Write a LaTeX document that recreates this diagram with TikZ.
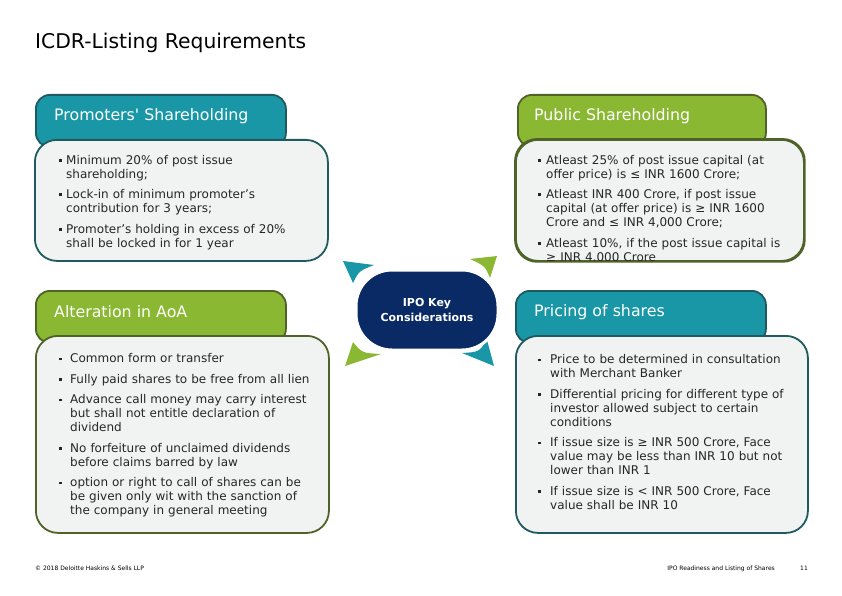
\documentclass[tikz,border=0pt]{standalone}
\usepackage{fontspec}
\setmainfont{DejaVu Sans}[Ligatures=TeXOff]
\usepackage{tikz}
\usetikzlibrary{positioning, calc}
\definecolor{tealhead}{HTML}{1A97A6}
\definecolor{tealline}{HTML}{1F5A60}
\definecolor{greenhead}{HTML}{8AB833}
\definecolor{greenline}{HTML}{4F6228}
\definecolor{navyoval}{HTML}{0A2A66}
\definecolor{panelfill}{HTML}{F1F3F3}
\newlength\bulw
\newcommand\itm[1]{\par\begingroup\let\\\newline\noindent\hangindent=\bulw\hangafter=1%
    \makebox[\bulw][l]{\rule[2.4pt]{2.8pt}{2.8pt}}#1\par\endgroup\vspace{6.5pt}}
\tikzstyle{headbox} = [rectangle, rounded corners=14pt, minimum width=250pt, minimum height=52pt, line width=1.8pt, anchor=north west]
\tikzstyle{headtext} = [text=white, inner sep=0pt, font=\fontsize{15.8}{18}\selectfont]
\tikzstyle{panel} = [rectangle, rounded corners=22pt, fill=panelfill, line width=1.8pt, anchor=north west]
\tikzstyle{listtext} = [inner sep=0pt, text width=290pt, align=left, text=black!85, font=\fontsize{12}{14}\selectfont]
\tikzstyle{footnote} = [inner sep=0pt, font=\fontsize{6}{7}\selectfont]

\begin{document}
\begin{tikzpicture}[x=1pt, y=-1pt]
    \useasboundingbox (0,0) rectangle (842,596);

    % Title
    \node (title) [anchor=base west, inner sep=0pt, font=\fontsize{20.3}{23}\selectfont] at (35,49) {ICDR-Listing Requirements};

    % === TOP LEFT: Promoters' Shareholding ===
    \node (promohead) [headbox, fill=tealhead, draw=tealline] at (35,94) {};
    \node (promobody) [panel, draw=tealline, minimum width=293pt, minimum height=121pt] at (34,139) {};
    \node (promotitle) [headtext, right=19pt of promohead.west, yshift=5pt] {Promoters' Shareholding};
    \node (promolist) [listtext, below right=11pt and 25pt of promobody.north west] {\setlength\bulw{7pt}%
        \itm{Minimum 20\% of post issue\\shareholding;}
        \itm{Lock-in of minimum promoter’s\\contribution for 3 years;}
        \itm{Promoter’s holding in excess of 20\%\\shall be locked in for 1 year}};

    % === TOP RIGHT: Public Shareholding ===
    \node (pubhead) [headbox, fill=greenhead, draw=greenline, minimum width=248pt] at (517,94) {};
    \node (pubbody) [panel, draw=greenline, minimum width=288pt, minimum height=121pt] at (515,139) {};
    \node (pubtitle) [headtext, right=17pt of pubhead.west, yshift=5pt] {Public Shareholding};
    \begin{scope}
        \path [clip, rounded corners=22pt] (pubbody.north west) rectangle (pubbody.south east);
        \node (publist) [listtext, below right=11pt and 23pt of pubbody.north west] {\setlength\bulw{8pt}%
            \itm{Atleast 25\% of post issue capital (at\\offer price) is ≤ INR 1600 Crore;}
            \itm{Atleast INR 400 Crore, if post issue\\capital (at offer price) is ≥ INR 1600\\Crore and ≤ INR 4,000 Crore;}
            \itm{Atleast 10\%, if the post issue capital is\\≥ INR 4,000 Crore}};
    \end{scope}
    \draw [line width=1.8pt, greenline, rounded corners=22pt] (pubbody.north west) rectangle (pubbody.south east);

    % === BOTTOM LEFT: Alteration in AoA ===
    \node (aoahead) [headbox, fill=greenhead, draw=greenline] at (35,290) {};
    \node (aoabody) [panel, draw=greenline, minimum width=293pt, minimum height=197pt] at (35,335) {};
    \node (aoatitle) [headtext, right=19pt of aoahead.west, yshift=5pt] {Alteration in AoA};
    \node (aoalist) [listtext, below right=13.5pt and 24pt of aoabody.north west] {\setlength\bulw{11pt}%
        \itm{Common form or transfer}
        \itm{Fully paid shares to be free from all lien}
        \itm{Advance call money may carry interest\\but shall not entitle declaration of\\dividend}
        \itm{No forfeiture of unclaimed dividends\\before claims barred by law}
        \itm{option or right to call of shares can be\\be given only wit with the sanction of\\the company in general meeting}};

    % === BOTTOM RIGHT: Pricing of shares ===
    \node (pricehead) [headbox, fill=tealhead, draw=tealline] at (515,290) {};
    \node (pricebody) [panel, draw=tealline, minimum width=292pt, minimum height=197pt] at (515,335) {};
    \node (pricetitle) [headtext, right=19pt of pricehead.west, yshift=5pt] {Pricing of shares};
    \node (pricelist) [listtext, below right=14.5pt and 23pt of pricebody.north west] {\setlength\bulw{12pt}%
        \itm{Price to be determined in consultation\\with Merchant Banker}
        \itm{Differential pricing for different type of\\investor allowed subject to certain\\conditions}
        \itm{If issue size is ≥ INR 500 Crore, Face\\value may be less than INR 10 but not\\lower than INR 1}
        \itm{If issue size is < INR 500 Crore, Face\\value shall be INR 10}};

    % === CENTRE: corner marks and oval ===
    \fill [tealhead] (343,261) -- (374,265) .. controls (359,271) .. (353,283) -- cycle;
    \fill [greenhead] (497,256) -- (490,278) .. controls (485,266) .. (470,259) -- cycle;
    \fill [greenhead] (345,366) -- (353,342) .. controls (362,353) .. (381,354) -- cycle;
    \fill [tealhead] (494,366) -- (462,353) .. controls (479,352) .. (487,340) -- cycle;
    \node (ipo) [rectangle, rounded corners=36pt, minimum width=142pt, minimum height=80pt, fill=navyoval, draw=white, line width=3pt, text=white, align=center, font=\bfseries\fontsize{11}{15}\selectfont] at (427,310) {IPO Key\\Considerations};

    % Footer
    \node (copy) [footnote, anchor=base west] at (35,570) {© 2018 Deloitte Haskins \& Sells LLP};
    \node (pagename) [footnote, anchor=base east] at (775,570) {IPO Readiness and Listing of Shares};
    \node (pageno) [footnote, anchor=base west] at (800,570) {11};

\end{tikzpicture}
\end{document}
